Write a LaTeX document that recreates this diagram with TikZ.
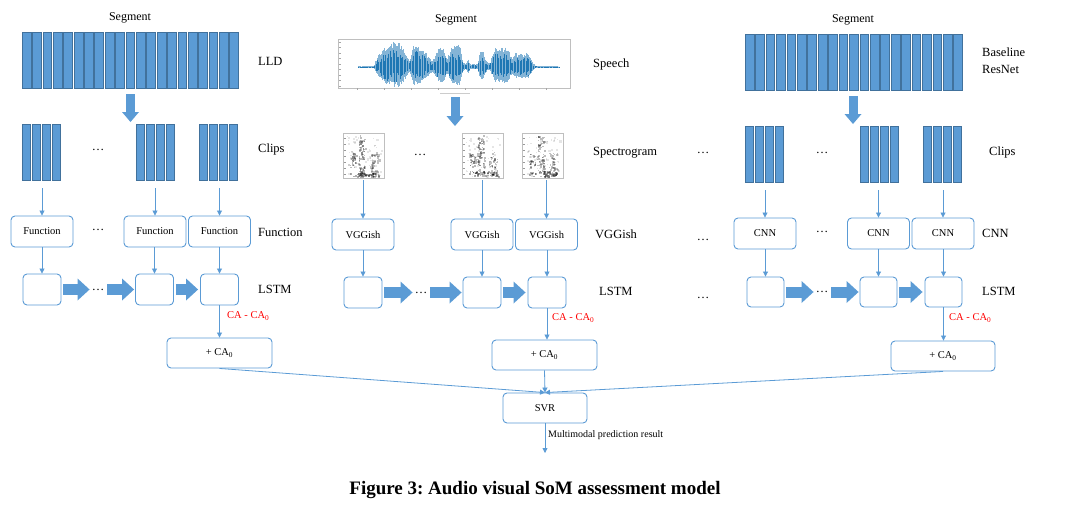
\documentclass[tikz,border=0pt]{standalone}
\usepackage{fontspec}
\setmainfont{Liberation Serif}
\frenchspacing
\usetikzlibrary{arrows.meta, positioning}
\usepackage{xcolor}
\definecolor{barblue}{HTML}{5B9BD5}
\definecolor{bardark}{HTML}{41719C}
\definecolor{linkblue}{HTML}{5B9BD5}
\definecolor{wave}{HTML}{1F77B4}
\definecolor{notered}{HTML}{FF0000}

\tikzset{
  stage/.style={draw=linkblue, line width=0.9pt, rounded corners=4pt, fill=white,
    minimum width=62, minimum height=31, inner sep=0pt, font=\fontsize{10.5}{12}\selectfont},
  cell/.style={stage, minimum width=38},
  sumbox/.style={stage, minimum width=105, minimum height=30},
  sidelab/.style={anchor=west, inner sep=0pt, font=\fontsize{12.5}{17}\selectfont},
  toplab/.style={inner sep=0pt, font=\fontsize{12}{14}\selectfont},
  gaplab/.style={inner sep=0pt, font=\fontsize{12.5}{14}\selectfont},
  diffnote/.style={anchor=west, inner sep=0pt, text=notered, font=\fontsize{10.5}{12}\selectfont},
  feed/.style={draw=linkblue, line width=0.8pt, -{Triangle[length=5pt,width=5pt]}},
  fatright/.style={draw=barblue, line width=11pt, -{Triangle[length=12pt,width=22pt,line width=0pt]}},
  fatdown/.style={draw=barblue, line width=9pt, -{Triangle[length=10pt,width=17pt,line width=0pt]}},
  bar/.style={fill=barblue, draw=bardark, line width=0.4pt},
  group/.style={inner sep=0pt, minimum width=40, minimum height=56},
  frame/.style={inner sep=0pt, minimum width=41, minimum height=45},
  pics/spectro/.style={code={
    \draw[black!25, line width=0.3pt] (0,0) rectangle (41,45);
    \foreach \t in {0,...,6} \draw[black!40, line width=0.3pt] (1,{5+\t*6}) -- (2.5,{5+\t*6});
    % blobs: x/y/w/h/count/opacity
    \foreach \bx/\by/\bw/\bh/\n/\op in {4/3/34/40/60/0.10, 7/20/6/14/25/0.28,
        15/2/7/41/70/0.26, 27/19/8/24/45/0.24, 7/38/29/5/40/0.32}{
      \foreach \k in {1,...,\n}{
        \pgfmathsetmacro\px{\bx+\bw*rnd}
        \pgfmathsetmacro\py{\by+\bh*rnd}
        \pgfmathsetmacro\s{0.8+1.8*rnd}
        \fill[black, opacity=\op] (\px,\py) rectangle ++(\s,\s);
      }
    }
  }},
}

\newcommand{\clipbars}[2]{\foreach \j in {0,...,3} \draw[bar] ({#1+\j*10},#2) rectangle ++(8.6,56);}

\begin{document}
\begin{tikzpicture}[x=1pt, y=-1pt]
\useasboundingbox (0,0) rectangle (1069,511);
\pgfmathsetseed{11}

% LLD branch
\node[toplab] (lseg) at (130,18) {Segment};
\foreach \i in {0,...,20} \draw[bar] ({22+\i*10.38},32) rectangle ++(8.8,56);
\node[inner sep=0pt, minimum width=217, minimum height=56] (lld) at (130.5,60) {};
\node[sidelab] (lldlab) at (258,61) {LLD};
\clipbars{22}{124} \clipbars{136}{124} \clipbars{199}{124}
\node[group] (lclip1) at (42,152) {};
\node[group] (lclip2) at (156,152) {};
\node[group] (lclip3) at (219,152) {};
\node[gaplab] (lcdots) at (98,150) {\dots};
\node[sidelab] (lcliplab) at (258,149) {Clips};
\coordinate (ldown) at (130.5,122);
\draw[fatdown, shorten <=6pt] (lld.south) -- (ldown);

\node[stage] (lfun1) at (42,231.5) {Function};
\node[stage] (lfun2) at (155,231.5) {Function};
\node[stage] (lfun3) at (219.5,231.5) {Function};
\node[gaplab] (lfdots) at (98,230) {\dots};
\node[sidelab] (lfunlab) at (258,232) {Function};

\node[cell] (llstm1) at (42,289.5) {};
\node[cell] (llstm2) at (154.5,289.5) {};
\node[cell] (llstm3) at (219.5,289.5) {};
\node[gaplab] (lldots) at (98,289.5) {\dots};
\node[sidelab] (llstmlab) at (258,289) {LSTM};

\foreach \k in {1,2,3}{
  \draw[feed, shorten <=8pt] (lfun\k.north |- lclip\k.south) -- (lfun\k.north);
  \draw[feed] (llstm\k.north |- lfun\k.south) -- (llstm\k.north);
}
\draw[fatright, shorten <=2pt, shorten >=2pt] (llstm1.east) -- (lldots.west);
\draw[fatright, shorten <=3pt, shorten >=1pt] (lldots.east) -- (llstm2.west);
\draw[fatright, shorten <=2pt, shorten >=2pt] (llstm2.east) -- (llstm3.west);

\node[diffnote] (lnote) at (227,316) {CA - CA\textsubscript{0}};
\node[sumbox] (lsum) at (219.5,353) {+ CA\textsubscript{0}};
\draw[feed] (llstm3.south) -- (llstm3.south |- lsum.north);

% speech branch
\node[toplab] (sseg) at (456,20) {Segment};
\node[draw=black!25, line width=0.4pt, inner sep=0pt, minimum width=232, minimum height=49] (speech) at (454,63.5) {};
\foreach \t in {0,...,8} \draw[black!35, line width=0.3pt] (339,{42+\t*5.5}) -- (341,{42+\t*5.5});
\foreach \t in {0,...,7} \draw[black!35, line width=0.3pt] ({357+\t*27},88) -- ({357+\t*27},90);
\draw[black!20, line width=0.3pt] (440,93) -- (470,93);
% envelope of the waveform: x0/a0/x1/a1
\foreach \xa/\aa/\xb/\ab in {358/0.6/374/0.8, 374/0.8/378/12, 378/12/385/20, 385/20/394/25.5,
    394/25.5/398/25, 398/25/402/21, 402/21/407/12, 407/12/410/5, 410/5/413/22, 413/22/417/24,
    417/24/422/18, 422/18/428/12, 428/12/432/6, 432/6/440/21, 440/21/443/20, 443/20/447/8,
    447/8/453/22, 453/22/460/23, 460/23/463/5, 463/5/466/3, 466/3/468/8, 468/8/470/3,
    470/3/478/3, 478/3/480/15, 480/15/483/15, 483/15/487/5, 487/5/490/4, 490/4/495/19,
    495/19/508/20, 508/20/512/8, 512/8/515/14, 515/14/528/14, 528/14/533/4, 533/4/536/1,
    536/1/559/0.6}{
  \pgfmathtruncatemacro\n{(\xb-\xa)/0.6}
  \foreach \i in {0,...,\n}{
    \pgfmathsetmacro\x{\xa+\i*0.6}
    \pgfmathsetmacro\a{\aa+(\ab-\aa)*\i*0.6/(\xb-\xa)}
    \draw[wave!55, line width=0.7pt] (\x,{67-\a*(0.72+0.28*rnd)}) -- (\x,{67+\a*(0.6+0.2*rnd)});
    \draw[wave, line width=0.6pt] (\x,{67-\a*(0.3+0.4*rnd)}) -- (\x,{67+\a*(0.25+0.4*rnd)});
  }
}
\node[sidelab] (speechlab) at (593,64) {Speech};
\coordinate (sdown) at (455,126);
\draw[fatdown, shorten <=9pt] (speech.south -| sdown) -- (sdown);

\pic at (343,133) {spectro};
\pic at (462,133) {spectro};
\pic at (522,133) {spectro};
\node[frame] (sspec1) at (363.5,155.5) {};
\node[frame] (sspec2) at (482.5,155.5) {};
\node[frame] (sspec3) at (542.5,155.5) {};
\node[gaplab] (ssdots) at (420,155) {\dots};
\node[sidelab] (speclab) at (593,153) {Spectrogram};

\node[stage] (svgg1) at (363,234.5) {VGGish};
\node[stage] (svgg2) at (482,234.5) {VGGish};
\node[stage] (svgg3) at (546.5,234.5) {VGGish};
\node[sidelab] (svgglab) at (595,234) {VGGish};

\node[cell] (slstm1) at (363,292.5) {};
\node[cell] (slstm2) at (482,292.5) {};
\node[cell] (slstm3) at (547,292.5) {};
\node[gaplab] (sldots) at (421,292.5) {\dots};
\node[sidelab] (slstmlab) at (599,291) {LSTM};

\foreach \k in {1,2,3}{
  \draw[feed, shorten <=2pt] (svgg\k.north |- sspec\k.south) -- (svgg\k.north);
  \draw[feed] (slstm\k.north |- svgg\k.south) -- (slstm\k.north);
}
\draw[fatright, shorten <=2pt, shorten >=2pt] (slstm1.east) -- (sldots.west);
\draw[fatright, shorten <=3pt, shorten >=1pt] (sldots.east) -- (slstm2.west);
\draw[fatright, shorten <=2pt, shorten >=2pt] (slstm2.east) -- (slstm3.west);

\node[diffnote] (snote) at (552,318) {CA - CA\textsubscript{0}};
\node[sumbox] (ssum) at (544.5,355) {+ CA\textsubscript{0}};
\draw[feed] (slstm3.south) -- (slstm3.south |- ssum.north);

% ResNet branch
\node[toplab] (rseg) at (853,20) {Segment};
\foreach \i in {0,...,20} \draw[bar] ({745+\i*10.43},34) rectangle ++(8.8,56);
\node[inner sep=0pt, minimum width=218, minimum height=56] (res) at (854,62) {};
\node[sidelab, align=left] (reslab) at (982,60.5) {Baseline\\ResNet};
\clipbars{745}{126} \clipbars{860}{126} \clipbars{923}{126}
\node[group] (rclip1) at (765,154) {};
\node[group] (rclip2) at (880,154) {};
\node[group] (rclip3) at (943,154) {};
\node[gaplab] (rcdots0) at (703,153) {\dots};
\node[gaplab] (rcdots) at (822,153) {\dots};
\node[sidelab] (rcliplab) at (989,152) {Clips};
\coordinate (rdown) at (853,124);
\draw[fatdown, shorten <=6pt] (res.south -| rdown) -- (rdown);

\node[stage] (rcnn1) at (765,233.5) {CNN};
\node[stage] (rcnn2) at (878.5,233.5) {CNN};
\node[stage] (rcnn3) at (943,233.5) {CNN};
\node[gaplab] (rndots0) at (703,240) {\dots};
\node[gaplab] (rndots) at (822,232) {\dots};
\node[sidelab] (rcnnlab) at (982,233) {CNN};

\node[cell, minimum width=37, minimum height=30] (rlstm1) at (765.5,292) {};
\node[cell, minimum width=37, minimum height=30] (rlstm2) at (878.5,292) {};
\node[cell, minimum width=37, minimum height=30] (rlstm3) at (943.5,292) {};
\node[gaplab] (rldots0) at (703,298) {\dots};
\node[gaplab] (rldots) at (822,292) {\dots};
\node[sidelab] (rlstmlab) at (982,291) {LSTM};

\foreach \k in {1,2,3}{
  \draw[feed, shorten <=8pt] (rcnn\k.north |- rclip\k.south) -- (rcnn\k.north);
  \draw[feed] (rlstm\k.north |- rcnn\k.south) -- (rlstm\k.north);
}
\draw[fatright, shorten <=2pt, shorten >=2pt] (rlstm1.east) -- (rldots.west);
\draw[fatright, shorten <=3pt, shorten >=1pt] (rldots.east) -- (rlstm2.west);
\draw[fatright, shorten <=2pt, shorten >=2pt] (rlstm2.east) -- (rlstm3.west);

\node[diffnote] (rnote) at (949,318) {CA - CA\textsubscript{0}};
\node[sumbox, minimum width=104] (rsum) at (943,356) {+ CA\textsubscript{0}};
\draw[feed] (rlstm3.south) -- (rlstm3.south |- rsum.north);

% fusion
\node[stage, minimum width=84, minimum height=30] (svr) at (545,408) {SVR};
\draw[feed] (lsum.south) -- (svr.north);
\draw[feed] (ssum.south) -- (svr.north);
\draw[feed] (rsum.south) -- (svr.north);
\coordinate (out) at (545,453);
\draw[feed] (svr.south) -- (out);
\node[anchor=west, inner sep=0pt, font=\fontsize{10}{12}\selectfont] (outlab) at (548,435) {Multimodal prediction result};

\node[font=\bfseries\fontsize{19}{21}\selectfont] (caption) at (535,490) {Figure 3: Audio visual SoM assessment model};
\end{tikzpicture}
\end{document}
